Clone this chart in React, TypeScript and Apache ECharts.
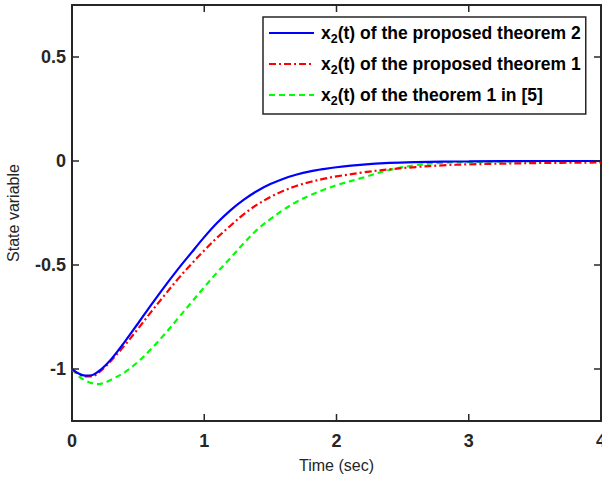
import React, { useEffect, useRef } from "react";
import * as echarts from "echarts";

const timeSec = [0, 0.05, 0.1, 0.15, 0.2, 0.25, 0.3, 0.4, 0.5, 0.6, 0.7, 0.8, 0.9, 1.0, 1.1, 1.2, 1.3, 1.4, 1.5, 1.6, 1.7, 1.8, 1.9, 2.0, 2.2, 2.4, 2.6, 2.8, 3.0, 3.5, 4.0];

const theorem2 = [-1.0, -1.022, -1.032, -1.03, -1.012, -0.984, -0.95, -0.868, -0.78, -0.691, -0.604, -0.521, -0.443, -0.366, -0.296, -0.236, -0.186, -0.144, -0.111, -0.085, -0.065, -0.05, -0.039, -0.03, -0.017, -0.009, -0.005, -0.003, -0.002, 0, 0];

const theorem1 = [-1.0, -1.024, -1.036, -1.036, -1.018, -0.99, -0.957, -0.885, -0.806, -0.724, -0.645, -0.568, -0.497, -0.43, -0.367, -0.31, -0.255, -0.21, -0.173, -0.143, -0.119, -0.101, -0.086, -0.074, -0.055, -0.04, -0.029, -0.021, -0.016, -0.01, -0.007];

const theoremRef5 = [-1.0, -1.035, -1.055, -1.068, -1.073, -1.065, -1.05, -1.015, -0.965, -0.903, -0.833, -0.758, -0.682, -0.607, -0.534, -0.465, -0.395, -0.33, -0.279, -0.234, -0.196, -0.165, -0.139, -0.116, -0.08, -0.043, -0.02, -0.009, -0.005, -0.001, 0];

const legendRest = ["(t) of the proposed theorem 2", "(t) of the proposed theorem 1", "(t) of the theorem 1 in [5]"];
const seriesNames = ["x2" + legendRest[0], "x2" + legendRest[1], "x2" + legendRest[2]];

const xRange = [0, 4];
const yRange = [-1.25, 0.75];
const yTicks = [-1, -0.5, 0, 0.5];
const xTicks = [0, 1, 2, 3, 4];

const W = 602;
const H = 481;
const GRID = { left: 72, right: 1, top: 5, bottom: 60 };

export default function App() {
  const ref = useRef<HTMLDivElement>(null);
  useEffect(() => {
    if (!ref.current) return;
    const chart = echarts.init(ref.current, undefined, { renderer: "svg" });
    const axisColor = "#262626";
    const pairs = (vals: number[]) => timeSec.map((t, i) => [t, vals[i]]);
    const font = "'Liberation Sans', Arial, Helvetica, sans-serif";
    const tickLen = 7;
    // tick length converted to data units through the grid size
    const dxTick = (tickLen * (xRange[1] - xRange[0])) / (W - GRID.left - GRID.right);
    const dyTick = (tickLen * (yRange[1] - yRange[0])) / (H - GRID.top - GRID.bottom);
    const line = () => ({ show: true, onZero: false, lineStyle: { color: axisColor, width: 2 } });

    const tickSeries: any[] = [];
    const addTick = (a: number[], b: number[]) =>
      tickSeries.push({
        type: "line",
        data: [a, b],
        symbol: "none",
        showSymbol: false,
        silent: true,
        clip: false,
        z: 5,
        lineStyle: { color: axisColor, width: 1.5, type: "solid" },
        itemStyle: { color: axisColor },
        tooltip: { show: false },
      });
    xTicks.forEach((v) => {
      addTick([v, yRange[0]], [v, yRange[0] + dyTick]);
      addTick([v, yRange[1]], [v, yRange[1] - dyTick]);
    });
    yTicks.forEach((v) => {
      addTick([xRange[0], v], [xRange[0] + dxTick, v]);
      addTick([xRange[1], v], [xRange[1] - dxTick, v]);
    });

    chart.setOption({
      animation: false,
      backgroundColor: "#ffffff",
      textStyle: { fontFamily: font },
      grid: { ...GRID, containLabel: false, outerBoundsMode: "none" },
      legend: {
        orient: "vertical",
        left: 263,
        top: 17,
        itemWidth: 45,
        itemHeight: 14,
        itemGap: 10,
        padding: [7, 5, 7, 5],
        borderColor: axisColor,
        borderWidth: 1.5,
        backgroundColor: "#ffffff",
        itemStyle: { opacity: 0 },
        data: seriesNames,
        formatter: (name: string) => "x{sub|2}" + name.slice(2),
        textStyle: {
          fontFamily: font,
          fontWeight: "bold",
          fontSize: 17.5,
          color: "#000",
          padding: [0, 0, 0, 2],
          rich: {
            sub: { fontSize: 12.5, fontWeight: "bold", color: "#000", fontFamily: font, padding: [11, 0, 0, 0] },
          },
        },
      },
      xAxis: [
        {
          type: "value",
          min: xRange[0],
          max: xRange[1],
          interval: 1,
          name: "Time (sec)",
          nameLocation: "middle",
          nameGap: 36,
          nameTextStyle: { fontSize: 16, color: axisColor, fontFamily: font },
          axisLine: line(),
          axisTick: { show: false },
          axisLabel: {
            margin: 11,
            fontSize: 18,
            fontWeight: "bold",
            color: axisColor,
            fontFamily: font,
            customValues: xTicks,
          },
          splitLine: { show: false },
        },
        {
          type: "value",
          position: "top",
          min: xRange[0],
          max: xRange[1],
          interval: 1,
          axisLine: line(),
          axisTick: { show: false },
          axisLabel: { show: false },
          splitLine: { show: false },
        },
      ],
      yAxis: [
        {
          type: "value",
          min: yRange[0],
          max: yRange[1],
          name: "State variable",
          nameLocation: "middle",
          nameGap: 51,
          nameTextStyle: { fontSize: 16, color: axisColor, fontFamily: font },
          axisLine: line(),
          axisTick: { show: false },
          axisLabel: {
            margin: 6,
            fontSize: 18,
            fontWeight: "bold",
            color: axisColor,
            fontFamily: font,
            customValues: yTicks,
            formatter: (v: number) => String(v),
          },
          splitLine: { show: false },
        },
        {
          type: "value",
          position: "right",
          min: yRange[0],
          max: yRange[1],
          axisLine: line(),
          axisTick: { show: false },
          axisLabel: { show: false },
          splitLine: { show: false },
        },
      ],
      series: [
        {
          name: seriesNames[0],
          type: "line",
          data: pairs(theorem2),
          showSymbol: false,
          symbol: "none",
          smooth: 0.35,
          lineStyle: { color: "#0000ff", width: 2.2, type: "solid" },
          itemStyle: { color: "#0000ff" },
          z: 4,
        },
        {
          name: seriesNames[1],
          type: "line",
          data: pairs(theorem1),
          showSymbol: false,
          symbol: "none",
          smooth: 0.35,
          lineStyle: { color: "#ff0000", width: 2.2, type: [7, 3, 2, 3] },
          itemStyle: { color: "#ff0000" },
          z: 3,
        },
        {
          name: seriesNames[2],
          type: "line",
          data: pairs(theoremRef5),
          showSymbol: false,
          symbol: "none",
          smooth: 0.35,
          lineStyle: { color: "#00ff00", width: 2.2, type: [6, 4] },
          itemStyle: { color: "#00ff00" },
          z: 2,
        },
        ...tickSeries,
      ],
    });

    return () => chart.dispose();
  }, []);
  return <div ref={ref} style={{ position: "fixed", left: 0, top: 0, width: W, height: H }} />;
}
